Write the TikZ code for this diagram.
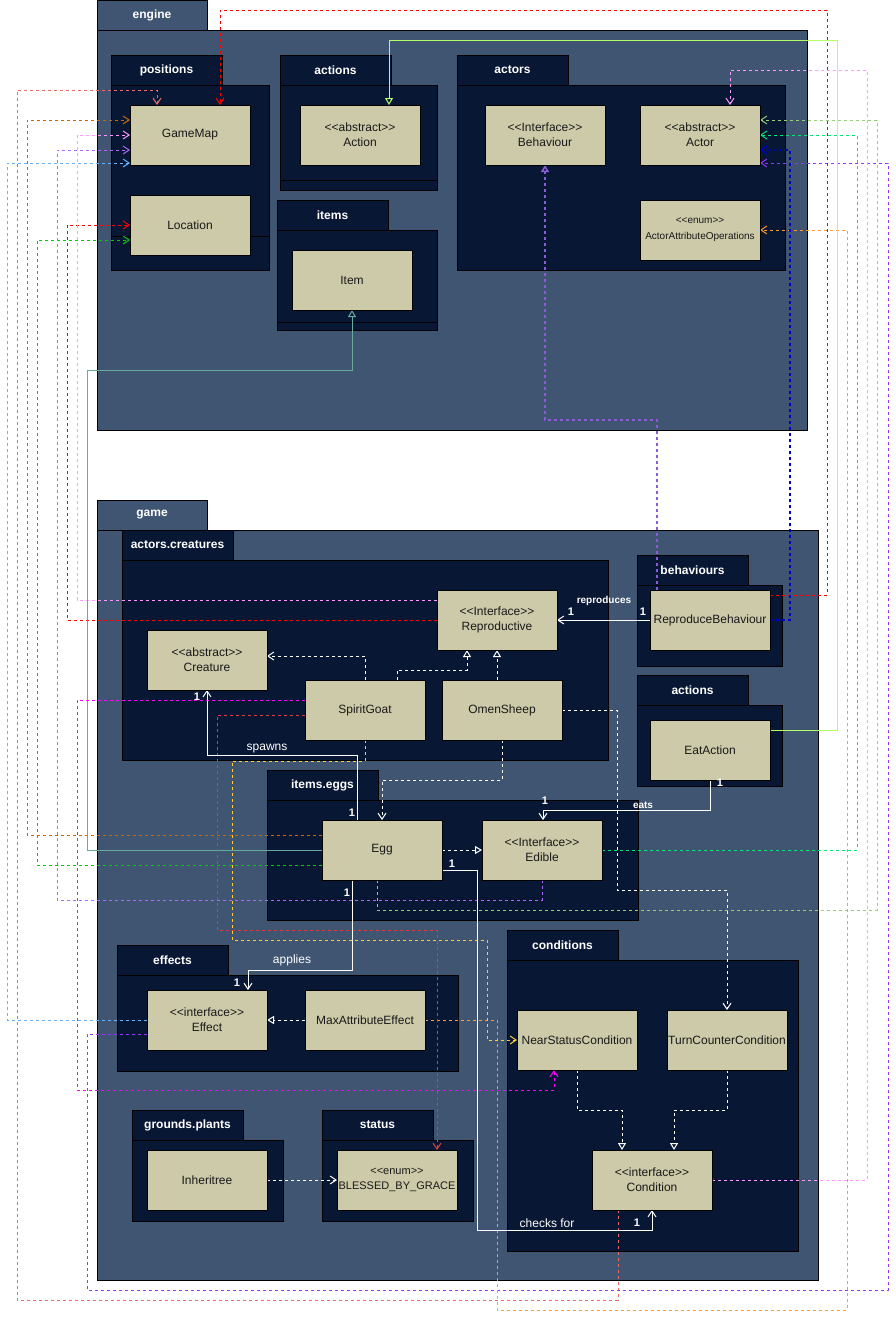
\documentclass[tikz,border=0pt]{standalone}
\usepackage{fontspec}
\setmainfont{Liberation Sans}
\usetikzlibrary{arrows.meta}

% palette
\definecolor{slate}{HTML}{3F5572}
\definecolor{navy}{HTML}{081734}
\definecolor{beige}{HTML}{CDCAA9}
\definecolor{cSalmon}{HTML}{EA6B66}
\definecolor{cBrown}{HTML}{CC6600}
\definecolor{cGreen}{HTML}{00CC00}
\definecolor{cLilac}{HTML}{B266FF}
\definecolor{cRed}{HTML}{FF0000}
\definecolor{cDRed}{HTML}{E03C3C}
\definecolor{cPink}{HTML}{FF99FF}
\definecolor{cLBlue}{HTML}{66B2FF}
\definecolor{cTeal}{HTML}{67AB9F}
\definecolor{cMagenta}{HTML}{FF00FF}
\definecolor{cPurple}{HTML}{9933FF}
\definecolor{cLGreen}{HTML}{97D077}
\definecolor{cMint}{HTML}{00E676}
\definecolor{cOrange}{HTML}{FF9933}
\definecolor{cLime}{HTML}{B3FF66}
\definecolor{cBlue}{HTML}{0000CC}
\definecolor{cViolet}{HTML}{8A5CD6}
\definecolor{cYellow}{HTML}{FFCC33}

% stereotype text, kerns keep << and >> from turning into guillemets
\newcommand\sttype[1]{<\kern0pt<#1>\kern0pt>}

% package: name, fill, tab x1, tab y1, tab x2, tab y2 (= body top), body x2, body y2, label
\newcommand\pkgbox[9]{%
  \filldraw[draw=black,fill=#2,line width=1pt] (#3,#4) rectangle (#5,#6);
  \filldraw[draw=black,fill=#2,line width=1pt] (#3,#6) rectangle (#7,#8);
  \node[pkgtxt] (#1) at ({(#3+#5)/2},{(#4+#6)/2}) {#9};}

\tikzset{
  cls/.style={draw=black, line width=1pt, fill=beige, minimum width=120pt,
    minimum height=60pt, inner sep=0pt, outer sep=0pt, align=center,
    text=black!90, font=\fontsize{12}{15}\selectfont},
  pkgtxt/.style={text=white, inner sep=0pt, font=\bfseries\fontsize{12}{14}\selectfont},
  dep/.style={line width=1pt, dash pattern=on 3pt off 3pt,
    -{Straight Barb[length=6pt,width=8pt]}},
  realz/.style={line width=1pt, dash pattern=on 3pt off 3pt,
    -{Triangle[open,length=7pt,width=8pt]}},
  assoc/.style={line width=1pt, -{Straight Barb[length=6pt,width=8pt]}},
  gen/.style={line width=1pt, -{Triangle[open,length=7pt,width=8pt]}},
  lblN/.style={text=white, inner sep=0pt, font=\bfseries\fontsize{11}{12}\selectfont},
  lblB/.style={text=white, inner sep=0pt, font=\bfseries\fontsize{10}{12}\selectfont},
  lblR/.style={text=white, inner sep=0pt, font=\fontsize{12}{14}\selectfont}
}

\pgfdeclarelayer{pkglayer}
\pgfdeclarelayer{edgelayer}
\pgfsetlayers{pkglayer,edgelayer,main}

\begin{document}
\begin{tikzpicture}[x=1pt,y=-1pt]
\useasboundingbox (0,0) rectangle (896,1320);

\begin{pgfonlayer}{pkglayer}
  % engine
  \pkgbox{pEngine}{slate}{97}{0}{207}{30}{807}{430}{engine}
  \pkgbox{pPositions}{navy}{111}{55}{222}{85}{269}{270}{positions}
  \pkgbox{pActionsE}{navy}{280}{55}{391}{85}{437}{190}{actions}
  \pkgbox{pItems}{navy}{277}{200}{388}{230}{437}{330}{items}
  \pkgbox{pActors}{navy}{457}{55}{568}{85}{785}{270}{actors}
  \draw[black,line width=0.8pt] (111,236) -- (269,236);
  \draw[black,line width=0.8pt] (280,180) -- (437,180);
  \draw[black,line width=0.8pt] (277,322) -- (437,322);
  % game
  \pkgbox{pGame}{slate}{97}{500}{207}{530}{818}{1280}{game}
  \pkgbox{pCreatures}{navy}{122}{530}{233}{560}{608}{760}{actors.creatures}
  \pkgbox{pBehaviours}{navy}{637}{555}{748}{585}{782}{666}{behaviours}
  \pkgbox{pActionsG}{navy}{637}{675}{748}{705}{782}{786}{actions}
  \pkgbox{pEggs}{navy}{267}{770}{378}{800}{638}{920}{items.eggs}
  \pkgbox{pEffects}{navy}{117}{945}{228}{975}{458}{1071}{effects}
  \pkgbox{pConditions}{navy}{507}{930}{618}{960}{798}{1251}{conditions}
  \pkgbox{pPlants}{navy}{132}{1110}{243}{1140}{283}{1221}{grounds.plants}
  \pkgbox{pStatus}{navy}{322}{1110}{433}{1140}{473}{1221}{status}
\end{pgfonlayer}

% classes
\node[cls] (gamemap) at (190,135) {GameMap};
\node[cls] (location) at (190,225) {Location};
\node[cls] (action) at (360,135) {\sttype{abstract}\\Action};
\node[cls] (item) at (352,280) {Item};
\node[cls] (behaviour) at (545,135) {\sttype{Interface}\\Behaviour};
\node[cls] (actor) at (700,135) {\sttype{abstract}\\Actor};
\node[cls, font=\fontsize{10}{16}\selectfont] (aao) at (700,230) {\sttype{enum}\\ActorAttributeOperations};
\node[cls] (reproductive) at (497,620) {\sttype{Interface}\\Reproductive};
\node[cls] (creature) at (207,660) {\sttype{abstract}\\Creature};
\node[cls] (spiritgoat) at (365,710) {SpiritGoat};
\node[cls] (omensheep) at (502,710) {OmenSheep};
\node[cls] (reprobeh) at (710,620) {ReproduceBehaviour};
\node[cls] (eataction) at (710,750) {EatAction};
\node[cls] (egg) at (382,850) {Egg};
\node[cls] (edible) at (542,850) {\sttype{Interface}\\Edible};
\node[cls] (effect) at (207,1020) {\sttype{interface}\\Effect};
\node[cls] (maxattr) at (365,1020) {MaxAttributeEffect};
\node[cls] (nearstatus) at (577,1040) {NearStatusCondition};
\node[cls] (turncounter) at (727,1040) {TurnCounterCondition};
\node[cls] (condition) at (652,1180) {\sttype{interface}\\Condition};
\node[cls] (inheritree) at (207,1180) {Inheritree};
\node[cls, font=\fontsize{11}{15}\selectfont] (blessed) at (397,1180) {\sttype{enum}\\BLESSED\_BY\_GRACE};

\begin{pgfonlayer}{edgelayer}
  % dependencies into the engine, routed round the left side
  \draw[dep,cSalmon] (618,0 |- condition.south) -- (618,1300) -- (17,1300) -- (17,90) -- (157,90) -- (157,0 |- gamemap.north);
  \draw[dep,cBrown] (egg.west |- 0,835) -- (27,835) -- (27,120) -- (gamemap.west |- 0,120);
  \draw[dep,cGreen] (egg.west |- 0,865) -- (37,865) -- (37,240) -- (location.west |- 0,240);
  \draw[dep,cLilac] (542,0 |- edible.south) -- (542,900) -- (57,900) -- (57,150) -- (gamemap.west |- 0,150);
  \draw[dep,cRed] (reproductive.west) -- (67,620) -- (67,225) -- (location.west);
  \draw[dep,cPink] (reproductive.west |- 0,600) -- (77,600) -- (77,135) -- (gamemap.west);
  \draw[dep,cLBlue] (effect.west) -- (7,1020) -- (7,163) -- (gamemap.west |- 0,163);
  \draw[gen,cTeal] (egg.west) -- (87,850) -- (87,370) -- (352,370) -- (item.south);
  \draw[dep,cMagenta] (spiritgoat.west |- 0,700) -- (77,700) -- (77,1090) -- (554,1090) -- (554,0 |- nearstatus.south);
  % dependencies into the engine, routed round the right side
  \draw[dep,cPurple] (effect.west |- 0,1034) -- (87,1034) -- (87,1290) -- (888,1290) -- (888,163) -- (actor.east |- 0,163);
  \draw[dep,cLGreen] (377,0 |- egg.south) -- (377,910) -- (877,910) -- (877,120) -- (actor.east |- 0,120);
  \draw[dep,cPink] (condition.east) -- (867,1180) -- (867,70) -- (730,70) -- (730,0 |- actor.north);
  \draw[dep,cMint] (edible.east) -- (857,850) -- (857,135) -- (actor.east);
  \draw[dep,cOrange] (maxattr.east) -- (497,1020) -- (497,1310) -- (847,1310) -- (847,230) -- (aao.east);
  \draw[gen,cLime] (eataction.east |- 0,730) -- (837,730) -- (837,40) -- (389,40) -- (389,0 |- action.north);
  \draw[dep,cRed] (reprobeh.east |- 0,595) -- (827,595) -- (827,10) -- (220,10) -- (220,0 |- gamemap.north);
  \draw[dep,cBlue,line width=1.5pt] (reprobeh.east) -- (790,620) -- (790,150) -- (actor.east |- 0,150);
  \draw[realz,cViolet,line width=1.5pt] (657,0 |- reprobeh.north) -- (657,420) -- (545,420) -- (behaviour.south);
  % relations inside the game package
  \draw[assoc,white] (reprobeh.west) -- (reproductive.east);
  \draw[dep,white] (365,0 |- spiritgoat.north) -- (365,656) -- (creature.east |- 0,656);
  \draw[realz,white] (397,0 |- spiritgoat.north) -- (397,670) -- (467,670) -- (467,0 |- reproductive.south);
  \draw[realz,white] (497,0 |- omensheep.north) -- (497,0 |- reproductive.south);
  \draw[dep,white] (omensheep.south) -- (502,780) -- (382,780) -- (egg.north);
  \draw[dep,white] (omensheep.east) -- (617,710) -- (617,890) -- (727,890) -- (turncounter.north);
  \draw[dep,cDRed] (spiritgoat.west |- 0,715) -- (217,715) -- (217,930) -- (437,930) -- (437,0 |- blessed.north);
  \draw[dep,cYellow] (spiritgoat.south) -- (365,761) -- (232,761) -- (232,940) -- (487,940) -- (487,1040) -- (nearstatus.west);
  \draw[assoc,white] (357,0 |- egg.north) -- (357,755) -- (207,755) -- (creature.south);
  \draw[assoc,white] (eataction.south) -- (710,810) -- (543,810) -- (543,0 |- edible.north);
  \draw[realz,white] (egg.east) -- (edible.west);
  \draw[assoc,white] (egg.east |- 0,870) -- (477,870) -- (477,1230) -- (652,1230) -- (condition.south);
  \draw[assoc,white] (352,0 |- egg.south) -- (352,970) -- (248,970) -- (248,0 |- effect.north);
  \draw[realz,white] (maxattr.west) -- (effect.east);
  \draw[dep,white] (inheritree.east) -- (blessed.west);
  \draw[realz,white] (nearstatus.south) -- (577,1110) -- (622,1110) -- (622,0 |- condition.north);
  \draw[realz,white] (turncounter.south) -- (727,1110) -- (674,1110) -- (674,0 |- condition.north);
\end{pgfonlayer}

% association labels and multiplicities
\node[lblB] (lRepro) at (604,601) {reproduces};
\node[lblN] (lRepro1) at (571,612) {1};
\node[lblN] (lRepro2) at (643,612) {1};
\node[lblR] (lSpawns) at (267,749) {spawns};
\node[lblN] (lSpawn1) at (197,697) {1};
\node[lblN] (lSpawn2) at (352,813) {1};
\node[lblB] (lEats) at (643,805) {eats};
\node[lblN] (lEat1) at (720,783) {1};
\node[lblN] (lEat2) at (545,801) {1};
\node[lblR] (lChecks) at (547,1223) {checks for};
\node[lblN] (lCheck1) at (452,864) {1};
\node[lblN] (lCheck2) at (637,1223) {1};
\node[lblR] (lApplies) at (292,960) {applies};
\node[lblN] (lApply1) at (347,893) {1};
\node[lblN] (lApply2) at (237,983) {1};
\end{tikzpicture}
\end{document}
